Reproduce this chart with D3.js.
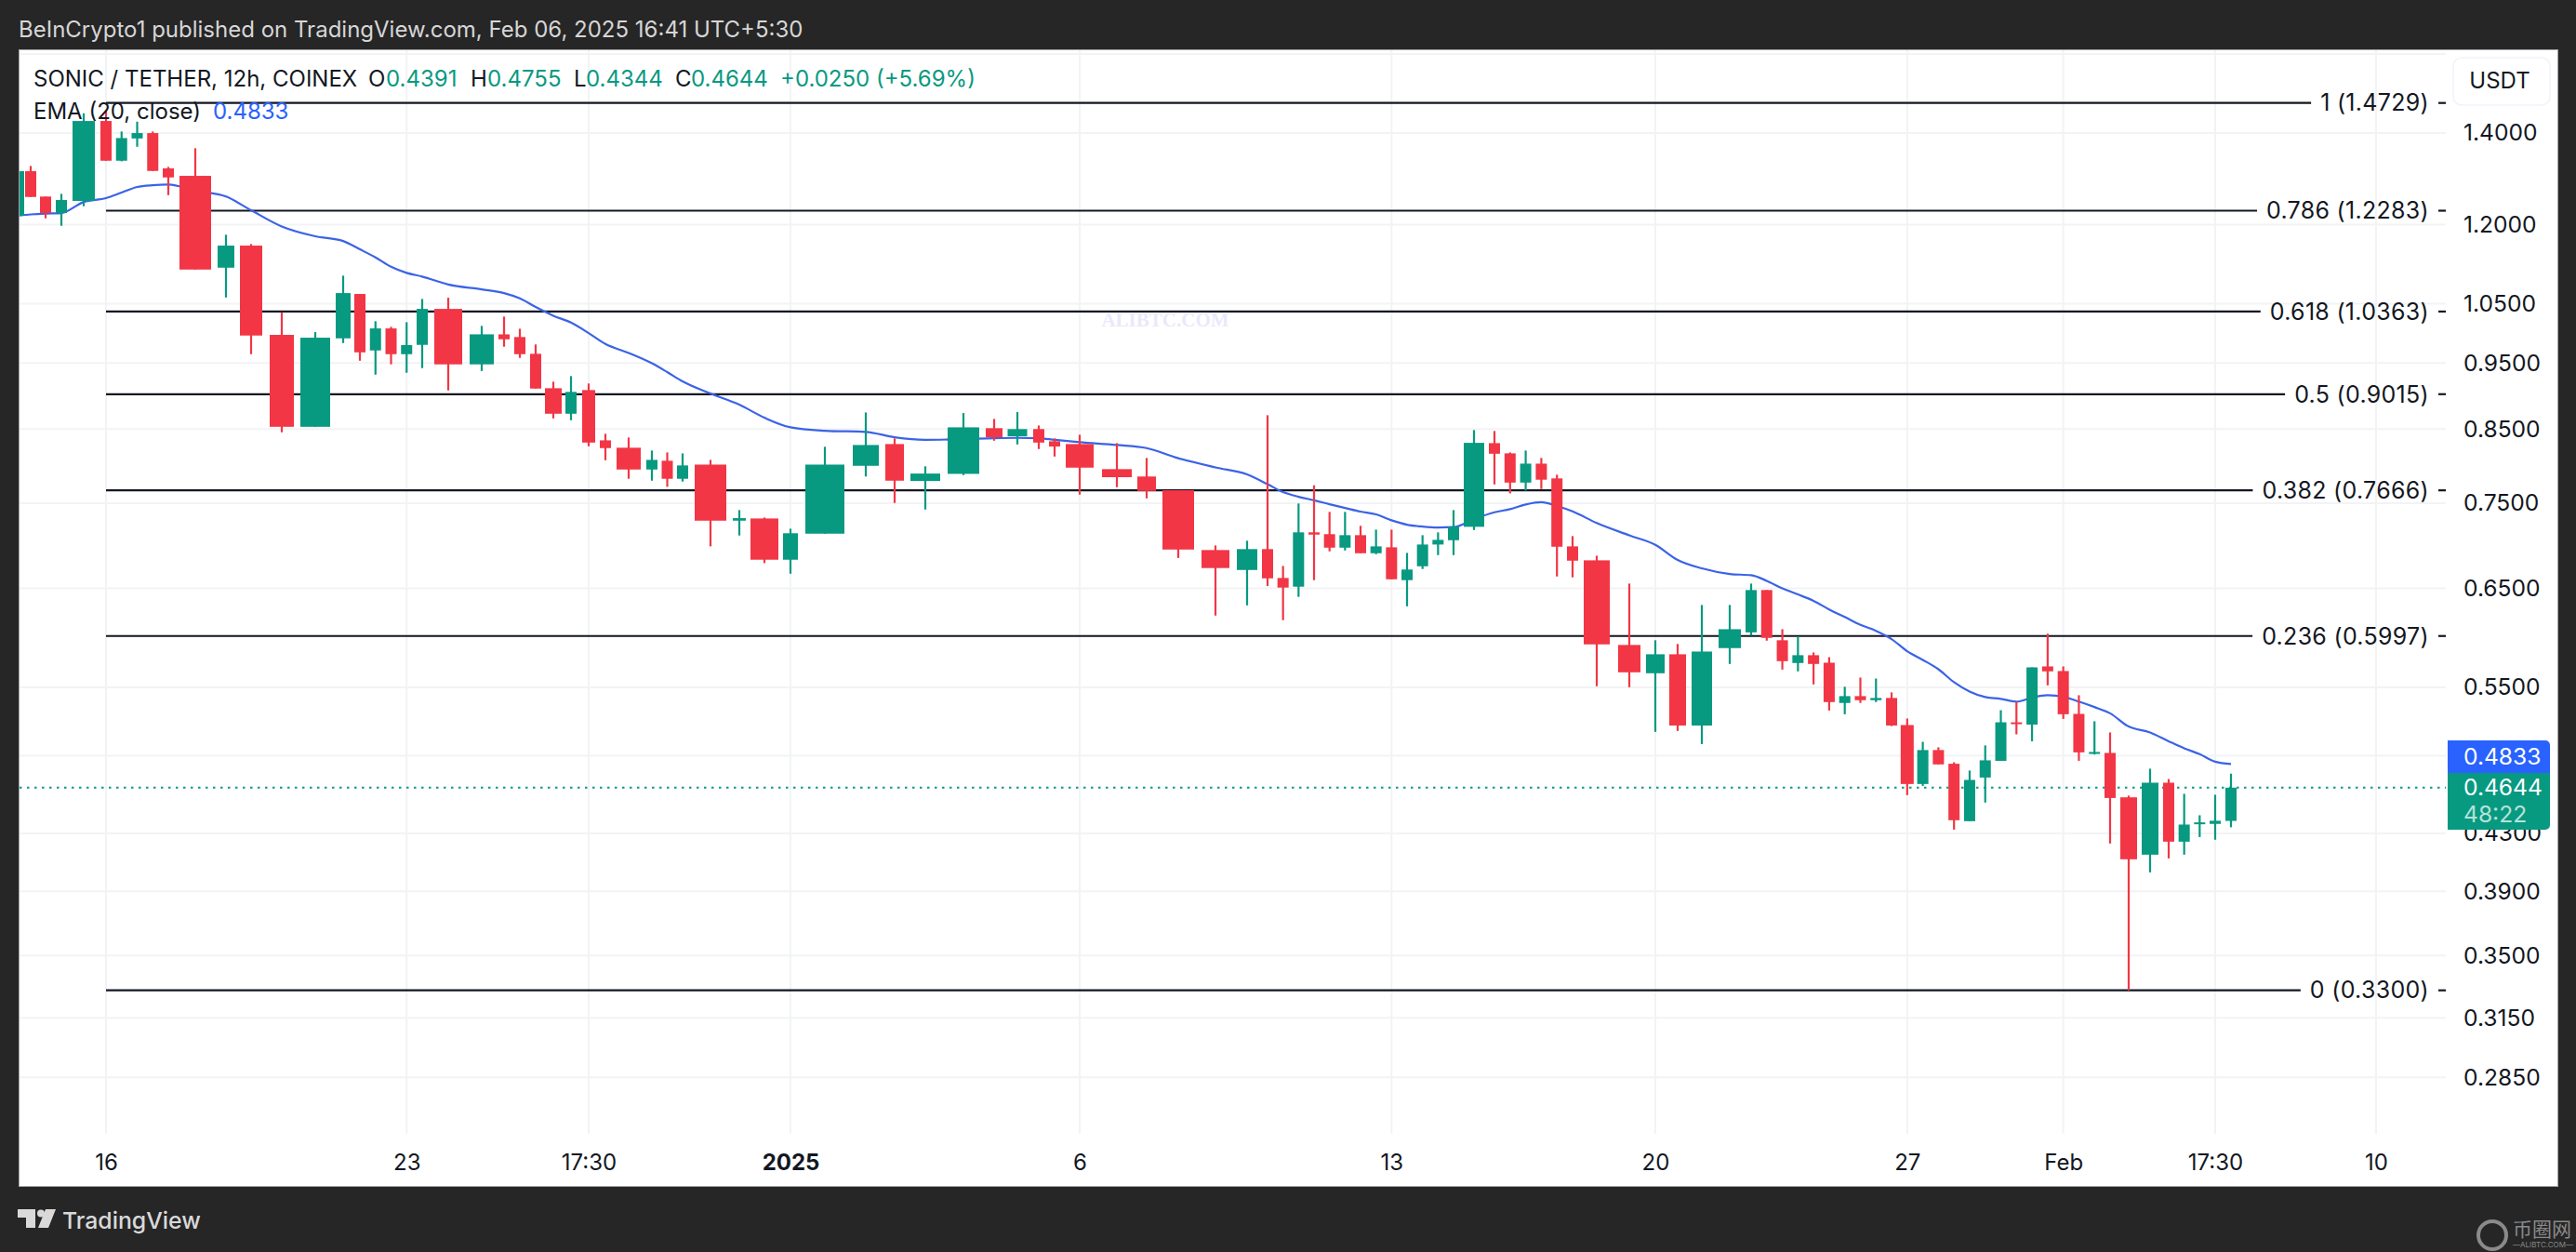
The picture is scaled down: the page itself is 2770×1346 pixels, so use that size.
<!DOCTYPE html>
<html>
<head>
<meta charset="utf-8">
<title>SONIC / TETHER</title>
<script src="https://cdn.jsdelivr.net/npm/d3@7"></script>
<style>
    html, body { margin: 0; padding: 0; background: #262626; }
    svg { display: block; }
    text { font-family: Inter, "Noto Sans", sans-serif; }
</style>
</head>
<body>
<div id="chart"></div>
<script>
// 12h candles, left to right, bar 0 is the one cut by the left edge
var opens = [1.2178,1.3129,1.2579,1.2234,1.2487,1.4288,1.3363,1.3874,1.4000,1.3191,
    1.3026,1.1158,1.1581,0.9963,0.8533,0.9905,1.0674,0.9705,1.0072,0.9644,
    0.9797,1.0409,0.9480,0.9972,0.9927,0.9650,0.9106,0.8723,0.9078,0.8340,
    0.8237,0.7940,0.8058,0.7817,0.8006,0.7284,0.7311,0.6820,0.7126,0.7990,
    0.8288,0.7788,0.7882,0.8513,0.8397,0.8500,0.8327,0.8288,0.7945,0.7847,
    0.7667,0.6932,0.6703,0.6943,0.6613,0.6517,0.7142,0.7120,0.6960,0.7108,
    0.6895,0.6964,0.6589,0.6745,0.6997,0.7048,0.7209,0.8301,0.8159,0.7767,
    0.8019,0.7822,0.6975,0.6813,0.5907,0.5632,0.5815,0.5157,0.5876,0.6034,
    0.6480,0.5954,0.5730,0.5806,0.5733,0.5357,0.5419,0.5382,0.5402,0.5161,
    0.4673,0.4948,0.4835,0.4389,0.4724,0.4859,0.5185,0.5165,0.5697,0.5653,
    0.5259,0.4916,0.4924,0.4569,0.4148,0.4683,0.4240,0.4367,0.4369,0.4391];
var highs = [1.3129,1.3245,1.2579,1.2637,1.4475,1.4552,1.4037,1.4272,1.4037,1.3224,
    1.3646,1.1795,1.1612,1.0349,1.0009,1.1009,1.0674,1.0195,1.0099,1.0178,
    1.0585,1.0607,1.0115,1.0275,1.0067,0.9803,0.9207,0.9294,0.9179,0.8433,
    0.8380,0.8198,0.8172,0.8159,0.8070,0.7415,0.7323,0.7186,0.8250,0.8742,
    0.8367,0.7983,0.8733,0.8647,0.8747,0.8552,0.8367,0.8419,0.8301,0.8096,
    0.7667,0.6986,0.7042,0.8701,0.6749,0.7498,0.7732,0.7392,0.7392,0.7221,
    0.7175,0.7175,0.6899,0.7108,0.7142,0.7415,0.8486,0.8473,0.8172,0.8198,
    0.8096,0.7871,0.7097,0.6866,0.6551,0.5954,0.5917,0.6319,0.6319,0.6551,
    0.6480,0.6066,0.5991,0.5833,0.5787,0.5505,0.5591,0.5582,0.5453,0.5218,
    0.5017,0.4971,0.4847,0.4780,0.4987,0.5292,0.5369,0.5688,0.6020,0.5697,
    0.5427,0.5194,0.5097,0.4582,0.4795,0.4712,0.4596,0.4433,0.4589,0.4755];
var lows = [1.2082,1.2571,1.2126,1.1975,1.2376,1.3363,1.3350,1.3681,1.3135,1.2609,
    1.1123,1.0611,0.9644,0.8454,0.8533,0.9827,0.9538,0.9317,0.9480,0.9347,
    0.9420,0.9072,0.9375,0.9766,0.9584,0.9101,0.8654,0.8628,0.8257,0.8065,
    0.7817,0.7792,0.7712,0.7780,0.6975,0.7104,0.6781,0.6661,0.7126,0.7847,
    0.7505,0.7422,0.7866,0.8335,0.8283,0.8219,0.8116,0.7611,0.7707,0.7563,
    0.6840,0.6207,0.6315,0.6524,0.6159,0.6406,0.6589,0.6917,0.6927,0.6895,
    0.6884,0.6599,0.6305,0.6714,0.6873,0.6873,0.7170,0.7743,0.7627,0.7663,
    0.7683,0.6630,0.6620,0.5510,0.5501,0.5102,0.5110,0.4998,0.5721,0.6001,
    0.5950,0.5667,0.5650,0.5527,0.5289,0.5256,0.5357,0.5365,0.5152,0.4586,
    0.4658,0.4830,0.4327,0.4389,0.4529,0.4859,0.5081,0.5022,0.5518,0.5215,
    0.4859,0.4911,0.4227,0.3300,0.4026,0.4122,0.4148,0.4273,0.4254,0.4344];
var closes = [1.3129,1.2571,1.2234,1.2506,1.4288,1.3363,1.3883,1.4000,1.3135,1.2992,
    1.1123,1.1581,0.9952,0.8533,0.9916,1.0690,0.9674,1.0072,0.9644,0.9793,
    1.0409,0.9480,0.9972,0.9889,0.9644,0.9101,0.8723,0.9050,0.8309,0.8232,
    0.7940,0.8070,0.7817,0.7995,0.7284,0.7315,0.6820,0.7131,0.8006,0.8275,
    0.7792,0.7886,0.8525,0.8384,0.8500,0.8309,0.8254,0.7965,0.7838,0.7658,
    0.6938,0.6725,0.6943,0.6609,0.6507,0.7142,0.7115,0.6960,0.7108,0.6895,
    0.6975,0.6599,0.6708,0.6997,0.7052,0.7209,0.8305,0.8154,0.7767,0.8019,
    0.7805,0.6971,0.6809,0.5913,0.5641,0.5815,0.5157,0.5842,0.6066,0.6480,
    0.5978,0.5748,0.5806,0.5721,0.5365,0.5419,0.5382,0.5402,0.5157,0.4673,
    0.4948,0.4830,0.4396,0.4705,0.4863,0.5185,0.5174,0.5688,0.5650,0.5256,
    0.4929,0.4932,0.4564,0.4116,0.4683,0.4240,0.4364,0.4380,0.4392,0.4644];
var emaValues = [1.2183,1.2206,1.2224,1.2234,1.2466,1.2546,1.2663,1.2784,1.2823,1.2837,
    1.2703,1.2579,1.2292,1.1960,1.1764,1.1671,1.1508,1.1353,1.1176,1.1061,
    1.0992,1.0847,1.0758,1.0690,1.0595,1.0442,1.0290,1.0172,0.9993,0.9811,
    0.9664,0.9497,0.9357,0.9212,0.9025,0.8857,0.8664,0.8525,0.8477,0.8460,
    0.8384,0.8348,0.8358,0.8371,0.8375,0.8371,0.8348,0.8314,0.8275,0.8232,
    0.8093,0.7968,0.7875,0.7746,0.7643,0.7583,0.7539,0.7489,0.7442,0.7396,
    0.7361,0.7288,0.7235,0.7212,0.7201,0.7205,0.7303,0.7388,0.7427,0.7486,
    0.7515,0.7466,0.7399,0.7255,0.7106,0.6993,0.6817,0.6721,0.6658,0.6644,
    0.6582,0.6498,0.6432,0.6363,0.6272,0.6192,0.6111,0.6050,0.5966,0.5845,
    0.5760,0.5670,0.5548,0.5461,0.5410,0.5394,0.5369,0.5405,0.5427,0.5413,
    0.5369,0.5320,0.5264,0.5148,0.5097,0.5022,0.4963,0.4914,0.4852,0.4833];

var fibLevels = [1, 0.786, 0.618, 0.5, 0.382, 0.236, 0];
var fibPrices = [1.4729, 1.2283, 1.0363, 0.9015, 0.7666, 0.5997, 0.3300];

var priceLabels = [1.4, 1.2, 1.05, 0.95, 0.85, 0.75, 0.65, 0.55, 0.43, 0.39, 0.35, 0.315, 0.285];
// 1.6 and 0.49 have a grid line but their labels sit behind the button and the flag
var priceGrid = [1.6, 0.49].concat(priceLabels);

var timeTickBars = [5, 19, 28, 37, 47, 61, 75, 89, 99, 108, 117];
var timeTickLabels = ["16", "23", "17:30", "2025", "6", "13", "20", "27", "Feb", "17:30", "10"];

var lastPrice = 0.4644, lastEma = 0.4833;

var W = 2770, H = 1346;
var frame = {left: 21, top: 54, right: 2750, bottom: 1275};
var plotRight = 2630, plotBottom = 1219;
var colorUp = "#089981", colorDown = "#f23645", colorEma = "#3b63e6", colorText = "#131722";

// body widths differ from bar to bar in this picture, 12 unless listed
var bodyWidth = 12;
var wideBodies = {4:24,10:34,11:18,12:24,13:26,14:32,15:16,21:30,22:26,26:18,28:14,30:26,34:34,35:14,
    36:30,37:16,38:42,39:28,40:20,41:32,42:34,43:18,44:21,47:30,48:32,49:20,50:34,51:30,52:22,
    66:22,73:28,74:24,75:20,76:18,77:22,78:24,89:14,103:18,104:18};

var svg = d3.select("#chart").append("svg").attr("width", W).attr("height", H);

// the bars of this picture are not evenly spaced, so the time scale is piecewise
var x = d3.scaleLinear()
    .domain([0,1,2,3,4,5,9,10,11,12,13,14,15,16,20,21,22,23,25,28,29,30,31,33,34,35,36,37,38,39,40,41,42,43,44,45,46,47,48,49,50,51,52,53,65,66,67,72,73,74,75,76,77,78,79,102,103,104,105,108,109,117])
    .range([20,33,49,66,90,114,181,210,243,270,303,339,369,387,454,482,518,542,576,633,651,676,701,734,764,795,822,850,887,931,962,995,1036,1069,1094,1117,1134,1161,1201,1233,1267,1307,1341,1363,1563,1585,1607,1691,1717,1752,1780,1804,1830,1860,1883,2269,2289,2312,2332,2382,2399,2555]);

var y = d3.scaleLog().domain([1.4729, 0.33]).range([110.7, 1064.7]);

// page
svg.append("rect").attr("width", W).attr("height", H).attr("fill", "#262626");
svg.append("rect")
    .attr("x", frame.left - 0.5).attr("y", frame.top - 0.5)
    .attr("width", frame.right - frame.left + 1).attr("height", frame.bottom - frame.top + 1)
    .attr("fill", "#fff").attr("stroke", "#a3a3a3").attr("stroke-width", 1);

svg.append("clipPath").attr("id", "plot").append("rect")
    .attr("x", frame.left).attr("y", frame.top)
    .attr("width", plotRight - frame.left).attr("height", plotBottom - frame.top);

svg.append("text").attr("x", 20).attr("y", 32).attr("dy", "0.35em")
    .attr("fill", "#d6d6d6").attr("font-size", 24)
    .text("BeInCrypto1 published on TradingView.com, Feb 06, 2025 16:41 UTC+5:30");

// grid
svg.append("g").selectAll("line").data(priceGrid).join("line")
    .attr("x1", frame.left).attr("x2", plotRight)
    .attr("y1", d => y(d)).attr("y2", d => y(d))
    .attr("stroke", "#f2f3f5").attr("stroke-width", 2);
svg.append("g").selectAll("line").data(timeTickBars).join("line")
    .attr("x1", d => x(d)).attr("x2", d => x(d))
    .attr("y1", frame.top).attr("y2", plotBottom)
    .attr("stroke", "#f2f3f5").attr("stroke-width", 2);

// watermark
svg.append("text").attr("x", 1253).attr("y", 351).attr("text-anchor", "middle")
    .attr("fill", "#e9e9fa").attr("font-size", 21).attr("font-weight", 700)
    .style("font-family", "'Liberation Serif', serif")
    .text("ALIBTC.COM");

// last price line
svg.append("line")
    .attr("x1", frame.left).attr("x2", plotRight)
    .attr("y1", y(lastPrice)).attr("y2", y(lastPrice))
    .attr("stroke", colorUp).attr("stroke-width", 2).attr("stroke-dasharray", "2.5 5.5");

// fib levels, each line stops just before its label
var fib = svg.append("g").selectAll("g").data(fibPrices).join("g");
var fibText = fib.append("text")
    .attr("x", 2612).attr("y", d => y(d)).attr("dy", "0.35em")
    .attr("text-anchor", "end").attr("fill", colorText).attr("font-size", 25)
    .attr("letter-spacing", 0.3)
    .text((d, i) => fibLevels[i] + " (" + d.toFixed(4) + ")");
fib.append("line")
    .attr("x1", x(5))
    .attr("x2", function(d, i) { return 2612 - fibText.nodes()[i].getComputedTextLength() - 10; })
    .attr("y1", d => y(d)).attr("y2", d => y(d))
    .attr("stroke", colorText).attr("stroke-width", 2.2);
fib.append("line")
    .attr("x1", 2622).attr("x2", plotRight)
    .attr("y1", d => y(d)).attr("y2", d => y(d))
    .attr("stroke", colorText).attr("stroke-width", 2.2);

var plot = svg.append("g").attr("clip-path", "url(#plot)");

// ema goes under the candles
var emaLine = d3.line().x((d, i) => x(i)).y(d => y(d)).curve(d3.curveMonotoneX);
plot.append("path").datum(emaValues)
    .attr("d", emaLine).attr("fill", "none")
    .attr("stroke", colorEma).attr("stroke-width", 2.2);

// candles
function barWidth(i) {
    return wideBodies[i] || bodyWidth;
}
var candles = plot.append("g").selectAll("g").data(opens).join("g")
    .attr("fill", (d, i) => closes[i] >= d ? colorUp : colorDown);
candles.append("rect")
    .attr("x", (d, i) => x(i) - 1.1).attr("width", 2.2)
    .attr("y", (d, i) => y(highs[i]))
    .attr("height", (d, i) => y(lows[i]) - y(highs[i]));
candles.append("rect")
    .attr("x", (d, i) => x(i) - barWidth(i) / 2).attr("width", (d, i) => barWidth(i))
    .attr("y", (d, i) => y(Math.max(d, closes[i])))
    .attr("height", (d, i) => Math.max(2, Math.abs(y(d) - y(closes[i]))));

// axes
var priceAxis = svg.append("g")
    .attr("transform", "translate(2649,0)")
    .call(d3.axisRight(y).tickValues(priceLabels).tickFormat(d3.format(".4f")).tickSize(0).tickPadding(0));
priceAxis.select(".domain").remove();
priceAxis.selectAll("text").attr("fill", colorText).attr("font-size", 24.6).style("font-family", "Inter");

var timeAxis = svg.append("g")
    .attr("transform", "translate(0," + 1250 + ")")
    .call(d3.axisBottom(x).tickValues(timeTickBars).tickFormat((d, i) => timeTickLabels[i]).tickSize(0).tickPadding(0));
timeAxis.select(".domain").remove();
timeAxis.selectAll("text")
    .attr("y", 0).attr("dy", "0.35em").attr("fill", colorText).attr("font-size", 24)
    .attr("font-weight", (d, i) => timeTickLabels[i] == "2025" ? 700 : 400)
    .style("font-family", "Inter");

// usdt button
svg.append("rect").attr("x", 2638).attr("y", 62).attr("width", 104).attr("height", 51).attr("rx", 9)
    .attr("fill", "#fff").attr("stroke", "#f0f3fa").attr("stroke-width", 1.5);
svg.append("text").attr("x", 2688).attr("y", 87).attr("dy", "0.35em").attr("text-anchor", "middle")
    .attr("fill", colorText).attr("font-size", 24).text("USDT");

// price flags
svg.append("path").attr("fill", "#2962ff")
    .attr("d", "M2632,796H2737a5,5 0 0 1 5,5V831H2632Z");
svg.append("path").attr("fill", colorUp)
    .attr("d", "M2632,831H2742V887a5,5 0 0 1 -5,5H2632Z");
svg.append("text").attr("x", 2649).attr("y", y(lastEma) - 8).attr("dy", "0.35em")
    .attr("fill", "#fff").attr("font-size", 24.6).text(lastEma.toFixed(4));
svg.append("text").attr("x", 2649).attr("y", y(lastPrice)).attr("dy", "0.35em")
    .attr("fill", "#fff").attr("font-size", 24.6).text(lastPrice.toFixed(4));
svg.append("text").attr("x", 2649).attr("y", 875).attr("dy", "0.35em")
    .attr("fill", "#b5e2d9").attr("font-size", 24.6).text("48:22");

// legend
function legend(px, py, str, color) {
    svg.append("text").attr("x", px).attr("y", py).attr("dy", "0.35em")
        .attr("fill", color).attr("font-size", 24).text(str);
}
legend(36, 85, "SONIC / TETHER, 12h, COINEX", colorText);
legend(396, 85, "O", colorText);
legend(415, 85, "0.4391", colorUp);
legend(506, 85, "H", colorText);
legend(524, 85, "0.4755", colorUp);
legend(617, 85, "L", colorText);
legend(630, 85, "0.4344", colorUp);
legend(726, 85, "C", colorText);
legend(743, 85, "0.4644", colorUp);
legend(839, 85, "+0.0250 (+5.69%)", colorUp);
legend(36, 120, "EMA (20, close)", colorText);
legend(229, 120, "0.4833", "#2962ff");

// footer, tradingview mark
svg.append("path").attr("fill", "#d9d9d9")
    .attr("d", "M19,1300H38V1320H28V1309H19Z");
svg.append("circle").attr("cx", 44).attr("cy", 1304.5).attr("r", 4).attr("fill", "#d9d9d9");
svg.append("path").attr("fill", "#d9d9d9")
    .attr("d", "M49,1300H60L52,1320H41Z");
svg.append("text").attr("x", 67).attr("y", 1312).attr("dy", "0.35em")
    .attr("fill", "#d9d9d9").attr("font-size", 24.8).attr("font-weight", 500).text("TradingView");

// footer, site mark
svg.append("circle").attr("cx", 2680).attr("cy", 1328).attr("r", 15)
    .attr("fill", "none").attr("stroke", "#8a8a8a").attr("stroke-width", 4);
svg.append("text").attr("x", 2702).attr("y", 1322).attr("dy", "0.35em")
    .attr("fill", "#8a8a8a").attr("font-size", 21)
    .style("font-family", "'Noto Sans CJK SC'").text("币圈网");
svg.append("text").attr("x", 2702).attr("y", 1338).attr("dy", "0.35em")
    .attr("fill", "#8a8a8a").attr("font-size", 8).text("—ALIBTC.COM—");
</script>
</body>
</html>
